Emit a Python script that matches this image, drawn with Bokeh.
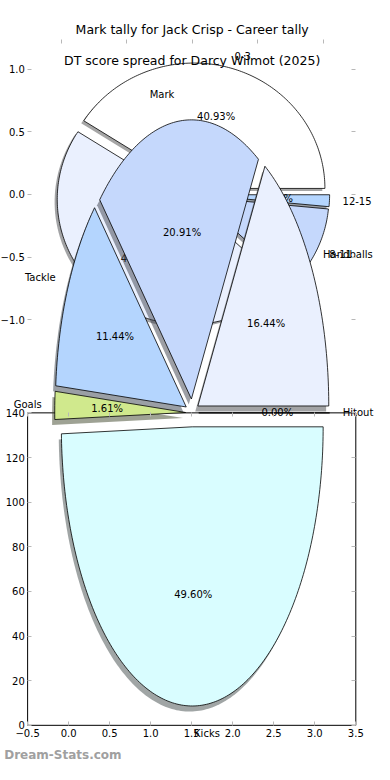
import numpy as np
from bokeh.plotting import figure
from bokeh.models import Range1d, LinearAxis, FixedTicker, ColumnDataSource
from bokeh.core.properties import value
from bokeh.embed import file_html
from bokeh.resources import INLINE

# ---------------- data ----------------
dt_title = "DT score spread for Darcy Wilmot (2025)"
dt_labels = ["0-3", "4-7", "8-11", "12-15"]
dt_values = [40.93, 47.00, 10.55, 1.52]

mk_title = "Mark tally for Jack Crisp - Career tally"
mk_labels = ["Hitout", "Handballs", "Mark", "Tackle", "Goals", "Kicks"]
mk_values = [0.00, 16.44, 20.91, 11.44, 1.61, 49.60]

slice_colors = ["#ffffff", "#eaf0fe", "#c5d8fc", "#b4d5fe", "#d0e98d", "#d9fdff"]

box_xticks = [-0.5, 0.0, 0.5, 1.0, 1.5, 2.0, 2.5, 3.0, 3.5]
box_yticks = [0, 20, 40, 60, 80, 100, 120, 140]
pie_ticks = [-1.0, -0.5, 0.0, 0.5, 1.0]

watermark = "Dream-Stats.com"

# ---------------- style / layout ----------------
FONT = "DejaVu Sans"
EXPLODE = 0.05
SHADOW = 0.02
LABEL_DIST = 1.1
PCT_DIST = 0.6
TICK_GRAY = "#b8b8b8"
W, H = 374, 764


def ref_x(px):
    return -0.5 + (px - 19.0) * 4.0 / 351.0


def ref_y(py):
    return (740.0 - py) * 140.0 / 319.0


def pie_x(px):
    return (px - 195.0) / 140.0


def dt_y(py):
    return (198.0 - py) / 128.0


def mk_y(py):
    return (421.0 - py) / 285.0


def dt_to_main(v):
    return ref_y(198.0 - 128.0 * v)


def fmt(v):
    s = "%.1f" % abs(v)
    return ("\u2212" + s) if v < 0 else s


FL, FR, FT, FB = -10.0, 390.0, 0.0, 780.0

p = figure(width=W, height=H, output_backend="svg", toolbar_location=None,
           x_range=Range1d(ref_x(FL), ref_x(FR)),
           y_range=Range1d(ref_y(FB), ref_y(FT)),
           x_axis_location=None, y_axis_location=None,
           min_border=0, min_border_left=0, min_border_right=0,
           min_border_top=0, min_border_bottom=0,
           background_fill_color="white", border_fill_color="white",
           outline_line_color=None)
p.extra_x_ranges = {"pie": Range1d(pie_x(FL), pie_x(FR))}
p.extra_y_ranges = {"dt": Range1d(dt_y(FB), dt_y(FT)),
                    "mk": Range1d(mk_y(FB), mk_y(FT))}
p.grid.visible = False


def pie_geometry(values):
    total = float(sum(values))
    out = []
    t1 = 0.0
    for v in values:
        t2 = t1 + 360.0 * v / total
        mid = np.deg2rad(0.5 * (t1 + t2))
        cx, cy = EXPLODE * np.cos(mid), EXPLODE * np.sin(mid)
        n = max(2, int(np.ceil(t2 - t1)) + 1)
        t = np.deg2rad(np.linspace(t1, t2, n))
        xs = np.concatenate([[cx], cx + np.cos(t), [cx]])
        ys = np.concatenate([[cy], cy + np.sin(t), [cy]])
        out.append(dict(xs=xs, ys=ys, mid=mid, cx=cx, cy=cy))
        t1 = t2
    return out


def shade(c):
    r, g, b = int(c[1:3], 16), int(c[3:5], 16), int(c[5:7], 16)
    return "#%02x%02x%02x" % (int(r * 0.3), int(g * 0.3), int(b * 0.3))


def draw_pie(values, labels, yname, level):
    geo = pie_geometry(values)
    cols = slice_colors[:len(values)]
    p.patches(xs=[list(g["xs"] - SHADOW) for g in geo],
              ys=[list(g["ys"] - SHADOW) for g in geo],
              fill_color=[shade(c) for c in cols], fill_alpha=0.5,
              line_color=None, x_range_name="pie", y_range_name=yname,
              level=level)
    p.patches(xs=[list(g["xs"]) for g in geo], ys=[list(g["ys"]) for g in geo],
              fill_color=cols, line_color="black", line_width=0.8,
              x_range_name="pie", y_range_name=yname, level=level)
    tx, ty, tt, ta = [], [], [], []
    for g, lab, v in zip(geo, labels, values):
        lx = g["cx"] + LABEL_DIST * np.cos(g["mid"])
        ly = g["cy"] + LABEL_DIST * np.sin(g["mid"])
        tx.append(lx); ty.append(ly); tt.append(lab)
        ta.append("left" if lx > 0 else "right")
        tx.append(g["cx"] + PCT_DIST * np.cos(g["mid"]))
        ty.append(g["cy"] + PCT_DIST * np.sin(g["mid"]))
        tt.append("%.2f%%" % v); ta.append("center")
    p.text(x="x", y="y", text="text", text_align="align", text_baseline="middle",
           text_font=value(FONT), text_font_size="10px", text_color="black",
           source=ColumnDataSource(dict(x=tx, y=ty, text=tt, align=ta)),
           x_range_name="pie", y_range_name=yname, level=level)


# ---- DT pie (behind) ----
draw_pie(dt_values, dt_labels, "dt", "image")

# ---- box of the value axes ----
p.quad(left=box_xticks[0], right=box_xticks[-1], bottom=box_yticks[0],
       top=box_yticks[-1], fill_color=None, line_color="black", line_width=1,
       level="underlay")

# ---- Mark tally pie (front) ----
draw_pie(mk_values, mk_labels, "mk", "glyph")

# ---- titles and watermark ----
p.text(x=[0.0, 0.0], y=[dt_y(30), dt_y(61)], text=[mk_title, dt_title],
       text_align="center", text_baseline="middle", text_font=value(FONT),
       text_font_size="12.5px", text_color="black",
       x_range_name="pie", y_range_name="dt")
p.text(x=[ref_x(-6)], y=[ref_y(770)], text=[watermark], text_align="left",
       text_baseline="middle", text_font=value(FONT), text_font_size="12px",
       text_font_style="bold", text_color="#a0a0a0")

# ---- tick labels ----
dt_main = [dt_to_main(v) for v in pie_ticks]
all_y = [float(t) for t in box_yticks] + dt_main
y_texts = [str(t) for t in box_yticks] + [fmt(v) for v in pie_ticks]
p.text(x=[ref_x(16)] * len(all_y), y=all_y, text=y_texts, text_align="right",
       text_baseline="middle", text_font=value(FONT), text_font_size="10px",
       text_color="black")
p.text(x=box_xticks, y=[ref_y(748)] * len(box_xticks),
       text=[fmt(t) for t in box_xticks], text_align="center",
       text_baseline="middle", text_font=value(FONT), text_font_size="10px",
       text_color="black")


# ---- tick marks (axes without labels, drawn at fixed locations) ----
def tick_axis(**kw):
    ticks = kw.pop("ticks")
    return LinearAxis(ticker=FixedTicker(ticks=ticks),
                      major_label_overrides={float(t): "" for t in ticks},
                      axis_line_color=None, major_tick_line_color=TICK_GRAY,
                      minor_tick_line_color=None, major_label_standoff=0,
                      major_label_text_font_size="0px",
                      major_tick_in=4, major_tick_out=0, **kw)


p.add_layout(tick_axis(ticks=all_y, fixed_location=box_xticks[0]), "left")
p.add_layout(tick_axis(ticks=all_y, fixed_location=box_xticks[-1]), "right")
p.add_layout(tick_axis(ticks=box_xticks, fixed_location=box_yticks[0]), "below")
p.add_layout(tick_axis(ticks=box_xticks, fixed_location=box_yticks[-1]), "above")
p.add_layout(tick_axis(ticks=pie_ticks, x_range_name="pie",
                       fixed_location=ref_y(40)), "above")

open("out.html", "w").write(file_html(p, INLINE))
